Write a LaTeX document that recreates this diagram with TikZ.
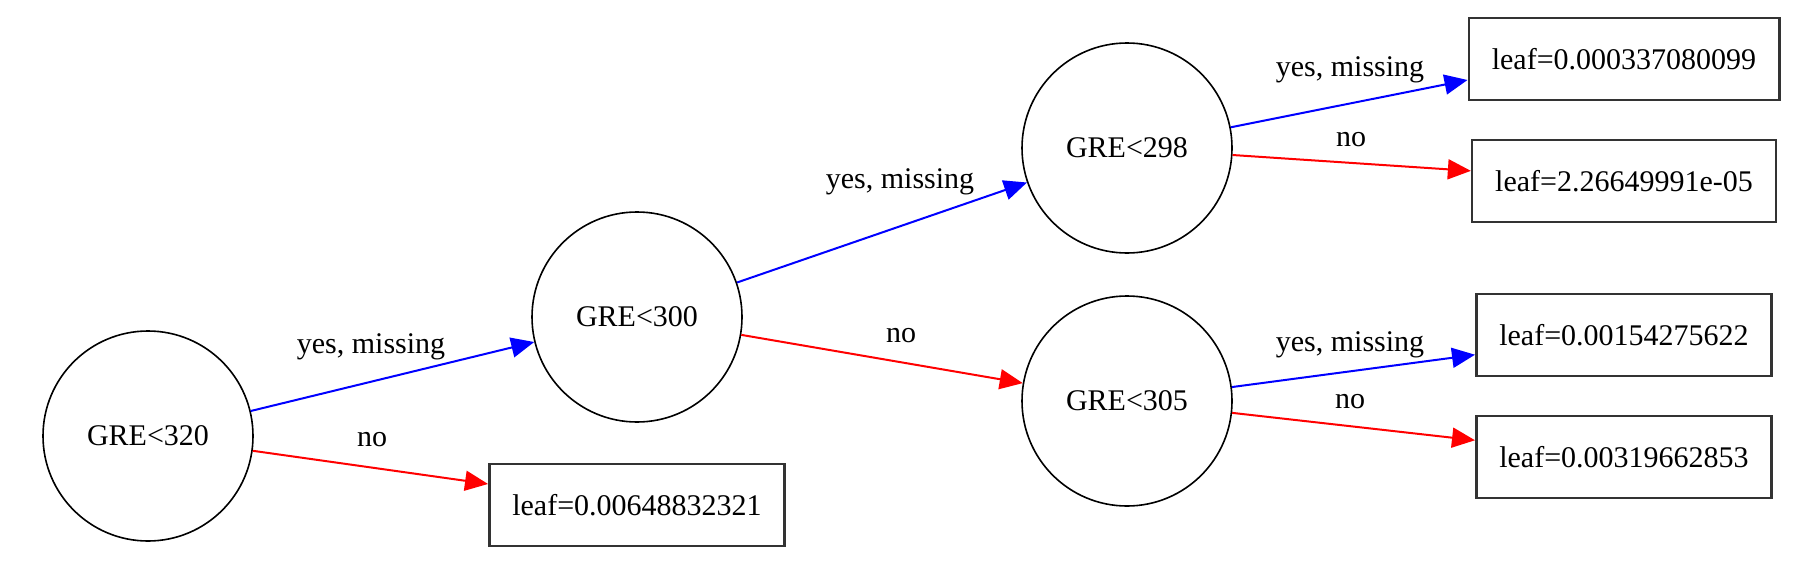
\documentclass[tikz,border=0pt]{standalone}
\usepackage{fontspec}
\setmainfont{Liberation Serif}
\usetikzlibrary{arrows.meta}
\tikzset{
	cond/.style={draw, circle, line width=0.8pt, minimum size=105pt, inner sep=0pt, font=\fontsize{15}{18}\selectfont},
	leaf/.style={draw=black!80, line width=1.3pt, minimum height=41pt, inner xsep=11.5pt, font=\fontsize{15}{18}\selectfont},
	lbl/.style={font=\fontsize{15}{18}\selectfont},
	yesedge/.style={blue, line width=1pt, -{Stealth[length=11.5pt, width=10pt, inset=0pt]}},
	noedge/.style={red, line width=1pt, -{Stealth[length=11.5pt, width=10pt, inset=0pt]}}
}

\begin{document}
\begin{tikzpicture}[x=0.5pt, y=-0.5pt]
		\useasboundingbox (0, 0) rectangle (1798, 578);

		\node[cond] (g320) at (148, 436) {GRE<320};
		\node[cond] (g300) at (637, 317) {GRE<300};
		\node[cond] (g298) at (1127, 148) {GRE<298};
		\node[cond] (g305) at (1127, 401) {GRE<305};

		\node[leaf] (l0) at (637, 505) {leaf=0.00648832321};
		\node[leaf] (l1) at (1624, 59) {leaf=0.000337080099};
		\node[leaf] (l2) at (1624, 181) {leaf=2.26649991e-05};
		\node[leaf] (l3) at (1624, 335) {leaf=0.00154275622};
		\node[leaf] (l4) at (1624, 457) {leaf=0.00319662853};

		\draw[yesedge] (g320) -- (g300);
		\draw[noedge] (g320) -- (l0);
		\draw[yesedge] (g300) -- (g298);
		\draw[noedge] (g300) -- (g305);
		\draw[yesedge] (g298) -- ([yshift=-10.5pt]l1.west);
		\draw[noedge] (g298) -- (l2);
		\draw[yesedge] (g305) -- (l3);
		\draw[noedge] (g305) -- (l4);

		\node[lbl] (y1) at (371, 347) {yes, missing};
		\node[lbl] (n1) at (372, 440) {no};
		\node[lbl] (y2) at (900, 182) {yes, missing};
		\node[lbl] (n2) at (901, 336) {no};
		\node[lbl] (y3) at (1350, 70) {yes, missing};
		\node[lbl] (n3) at (1351, 140) {no};
		\node[lbl] (y4) at (1350, 345) {yes, missing};
		\node[lbl] (n4) at (1350, 402) {no};
	\end{tikzpicture}
\end{document}
